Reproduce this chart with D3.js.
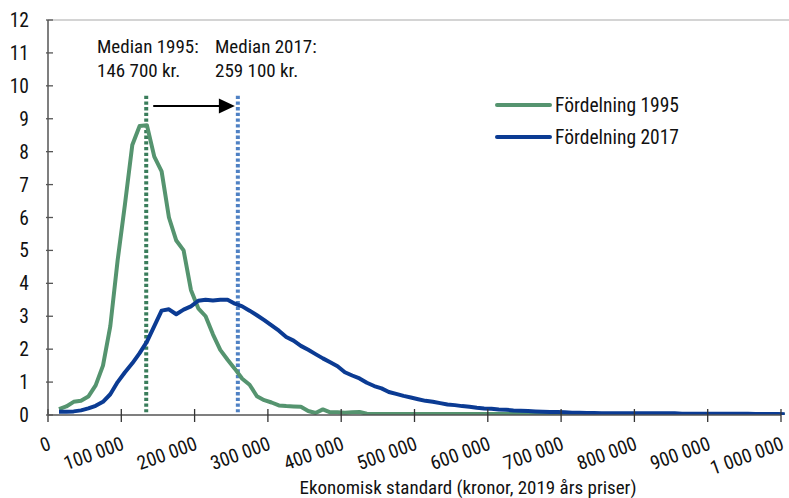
<!DOCTYPE html>
<html>
<head>
<meta charset="utf-8">
<script src="https://cdn.jsdelivr.net/npm/d3@7"></script>
<style>
  body { margin: 0; background: #fff; }
  svg text { font-family: "Roboto Condensed", "Roboto", sans-serif; font-stretch: condensed; fill: #111; }
</style>
</head>
<body>
<div class="canvas"></div>
<script>
// bin centres (kronor)
const incomes = d3.range(15000, 1010000, 10000)

// share of population per bin, 1995
const dist1995 = [
  0.18, 0.26, 0.4, 0.43, 0.56, 0.9, 1.5, 2.7, 4.7, 6.4,
  8.2, 8.78, 8.8, 7.85, 7.4, 6.0, 5.3, 5.0, 3.8, 3.24,
  3.0, 2.45, 1.98, 1.68, 1.4, 1.1, 0.92, 0.57, 0.45, 0.38,
  0.29, 0.27, 0.26, 0.25, 0.12, 0.06, 0.17, 0.08, 0.08, 0.07,
  0.08, 0.09, 0.04, 0.03, 0.03, 0.03, 0.03, 0.03, 0.03, 0.03,
  0.03, 0.03, 0.03, 0.03, 0.03, 0.03, 0.03, 0.03, 0.03, 0.03,
  0.03, 0.03, 0.03, 0.03, 0.03, 0, 0.03, 0.03, 0.03, 0.03,
  0.03, 0.03, 0.03, 0.03, 0, 0.03, 0.03, 0, 0, 0,
  0, 0, 0, 0, 0, 0.03, 0.03, 0, 0, 0.03,
  0.03, 0, 0, 0, 0, 0, 0.03, 0.03, 0.03, 0
]

// share of population per bin, 2017
const dist2017 = [
  0.1, 0.1, 0.11, 0.14, 0.2, 0.28, 0.4, 0.63, 1.0, 1.3,
  1.57, 1.88, 2.23, 2.7, 3.17, 3.21, 3.06, 3.2, 3.3, 3.47,
  3.5, 3.48, 3.5, 3.5, 3.38, 3.3, 3.17, 3.03, 2.88, 2.72,
  2.56, 2.37, 2.26, 2.1, 1.98, 1.85, 1.72, 1.6, 1.48, 1.3,
  1.2, 1.11, 0.98, 0.88, 0.81, 0.7, 0.64, 0.58, 0.53, 0.48,
  0.43, 0.4, 0.36, 0.32, 0.3, 0.27, 0.25, 0.22, 0.2, 0.19,
  0.17, 0.16, 0.14, 0.13, 0.12, 0.11, 0.1, 0.09, 0.09, 0.08,
  0.07, 0.07, 0.06, 0.06, 0.05, 0.05, 0.05, 0.05, 0.05, 0.05,
  0.05, 0.05, 0.05, 0.05, 0.05, 0.04, 0.04, 0.04, 0.04, 0.04,
  0.04, 0.04, 0.04, 0.04, 0.04, 0.03, 0.03, 0.03, 0.03, 0.02
]

const seriesNames = ['Fördelning 1995', 'Fördelning 2017']
const seriesColors = ['#55946f', '#0b3b93']

// median markers: position as drawn, label text
const medianPos = [134000, 259000]
const medianLabels = [['Median 1995:', '146 700 kr.'], ['Median 2017:', '259 100 kr.']]
const medianColors = ['#3a7d5b', '#4f81c4']

const xTicks = d3.range(0, 1000001, 100000)
const yTicks = d3.range(0, 13)
const xTitle = 'Ekonomisk standard (kronor, 2019 års priser)'

const W = 789, H = 498
const margin = { top: 20, right: 8, bottom: 83, left: 48 }
const graphWidth = W - margin.left - margin.right
const graphHeight = H - margin.top - margin.bottom

const svg = d3.select('.canvas')
  .append('svg')
  .attr('width', W)
  .attr('height', H)

const graph = svg.append('g')
  .attr('transform', `translate(${margin.left},${margin.top})`)

const x = d3.scaleLinear().domain([0, 1000000]).range([0, graphWidth])
const y = d3.scaleLinear().domain([0, 12]).range([graphHeight, 0])

const sv = d3.formatLocale({ decimal: ',', thousands: ' ', grouping: [3], currency: ['', ' kr'] })
const fmt = sv.format(',d')

// top border line
graph.append('line')
  .attr('x1', 0).attr('x2', W - margin.left)
  .attr('y1', 0).attr('y2', 0)
  .attr('stroke', '#c6c6c6').attr('stroke-width', 1.5)

svg.append('clipPath').attr('id', 'plot')
  .append('rect')
  .attr('x', 0).attr('y', 0)
  .attr('width', W - margin.left).attr('height', graphHeight)

// median lines
medianPos.forEach((m, i) => {
  graph.append('line')
    .attr('x1', x(m)).attr('x2', x(m))
    .attr('y1', y(9.7)).attr('y2', y(0.08))
    .attr('stroke', medianColors[i])
    .attr('stroke-width', 4)
    .attr('stroke-dasharray', '3.3 2.4')
})

// series
const line = d3.line()
  .x((d, i) => x(incomes[i]))
  .y(d => y(d))

const series = [dist1995, dist2017]
series.forEach((s, i) => {
  graph.append('path')
    .datum(s)
    .attr('clip-path', 'url(#plot)')
    .attr('fill', 'none')
    .attr('stroke', seriesColors[i])
    .attr('stroke-width', 4)
    .attr('stroke-linejoin', 'round')
    .attr('d', line)
})

// axes
const xAxisGroup = graph.append('g')
  .attr('transform', `translate(0,${graphHeight})`)
xAxisGroup.append('line')
  .attr('x1', 0).attr('x2', graphWidth)
  .attr('stroke', '#555').attr('stroke-width', 1.5)
xAxisGroup.selectAll('.tick')
  .data(xTicks)
  .enter()
  .append('line')
  .attr('x1', d => x(d)).attr('x2', d => x(d))
  .attr('y1', -6).attr('y2', 7)
  .attr('stroke', '#333').attr('stroke-width', 1.3)
xAxisGroup.selectAll('text')
  .data(xTicks)
  .enter()
  .append('text')
  .attr('transform', d => `translate(${x(d) + 4},34) rotate(-20)`)
  .attr('text-anchor', 'end')
  .attr('font-size', 19.5)
  .text(d => fmt(d))

const yAxisGroup = graph.append('g')
yAxisGroup.append('line')
  .attr('y1', 0).attr('y2', graphHeight)
  .attr('stroke', '#555').attr('stroke-width', 1.5)
yAxisGroup.selectAll('.tick')
  .data(yTicks)
  .enter()
  .append('line')
  .attr('y1', d => y(d)).attr('y2', d => y(d))
  .attr('x1', -2).attr('x2', 5)
  .attr('stroke', '#555').attr('stroke-width', 1.3)
yAxisGroup.selectAll('text')
  .data(yTicks)
  .enter()
  .append('text')
  .attr('x', -19)
  .attr('y', d => y(d))
  .attr('dy', '0.36em')
  .attr('text-anchor', 'end')
  .attr('font-size', 19.5)
  .text(d => d)

svg.append('text')
  .attr('x', 468).attr('y', 494)
  .attr('text-anchor', 'middle')
  .attr('font-size', 19)
  .text(xTitle)

// median labels
const labelX = [97, 215]
medianLabels.forEach((lines, i) => {
  lines.forEach((t, j) => {
    svg.append('text')
      .attr('x', labelX[i]).attr('y', 53 + j * 24)
      .attr('font-size', 19)
      .text(t)
  })
})

// arrow
const ay = y(9.39)
const ax1 = x(medianPos[0]) + 7
const ax2 = x(medianPos[1]) - 3
graph.append('line')
  .attr('x1', ax1).attr('x2', ax2 - 14)
  .attr('y1', ay).attr('y2', ay)
  .attr('stroke', '#000').attr('stroke-width', 2)
graph.append('path')
  .attr('d', `M${ax2},${ay} L${ax2 - 16},${ay - 7.5} L${ax2 - 16},${ay + 7.5} Z`)
  .attr('fill', '#000')

// legend
const legend = svg.append('g').attr('transform', 'translate(497,105)')
seriesNames.forEach((n, i) => {
  legend.append('line')
    .attr('x1', 0).attr('x2', 53)
    .attr('y1', i * 32).attr('y2', i * 32)
    .attr('stroke', seriesColors[i])
    .attr('stroke-width', 4)
    .attr('stroke-linecap', 'round')
  legend.append('text')
    .attr('x', 58).attr('y', i * 32)
    .attr('dy', '0.36em')
    .attr('font-size', 19.5)
    .text(n)
})
</script>
</body>
</html>
